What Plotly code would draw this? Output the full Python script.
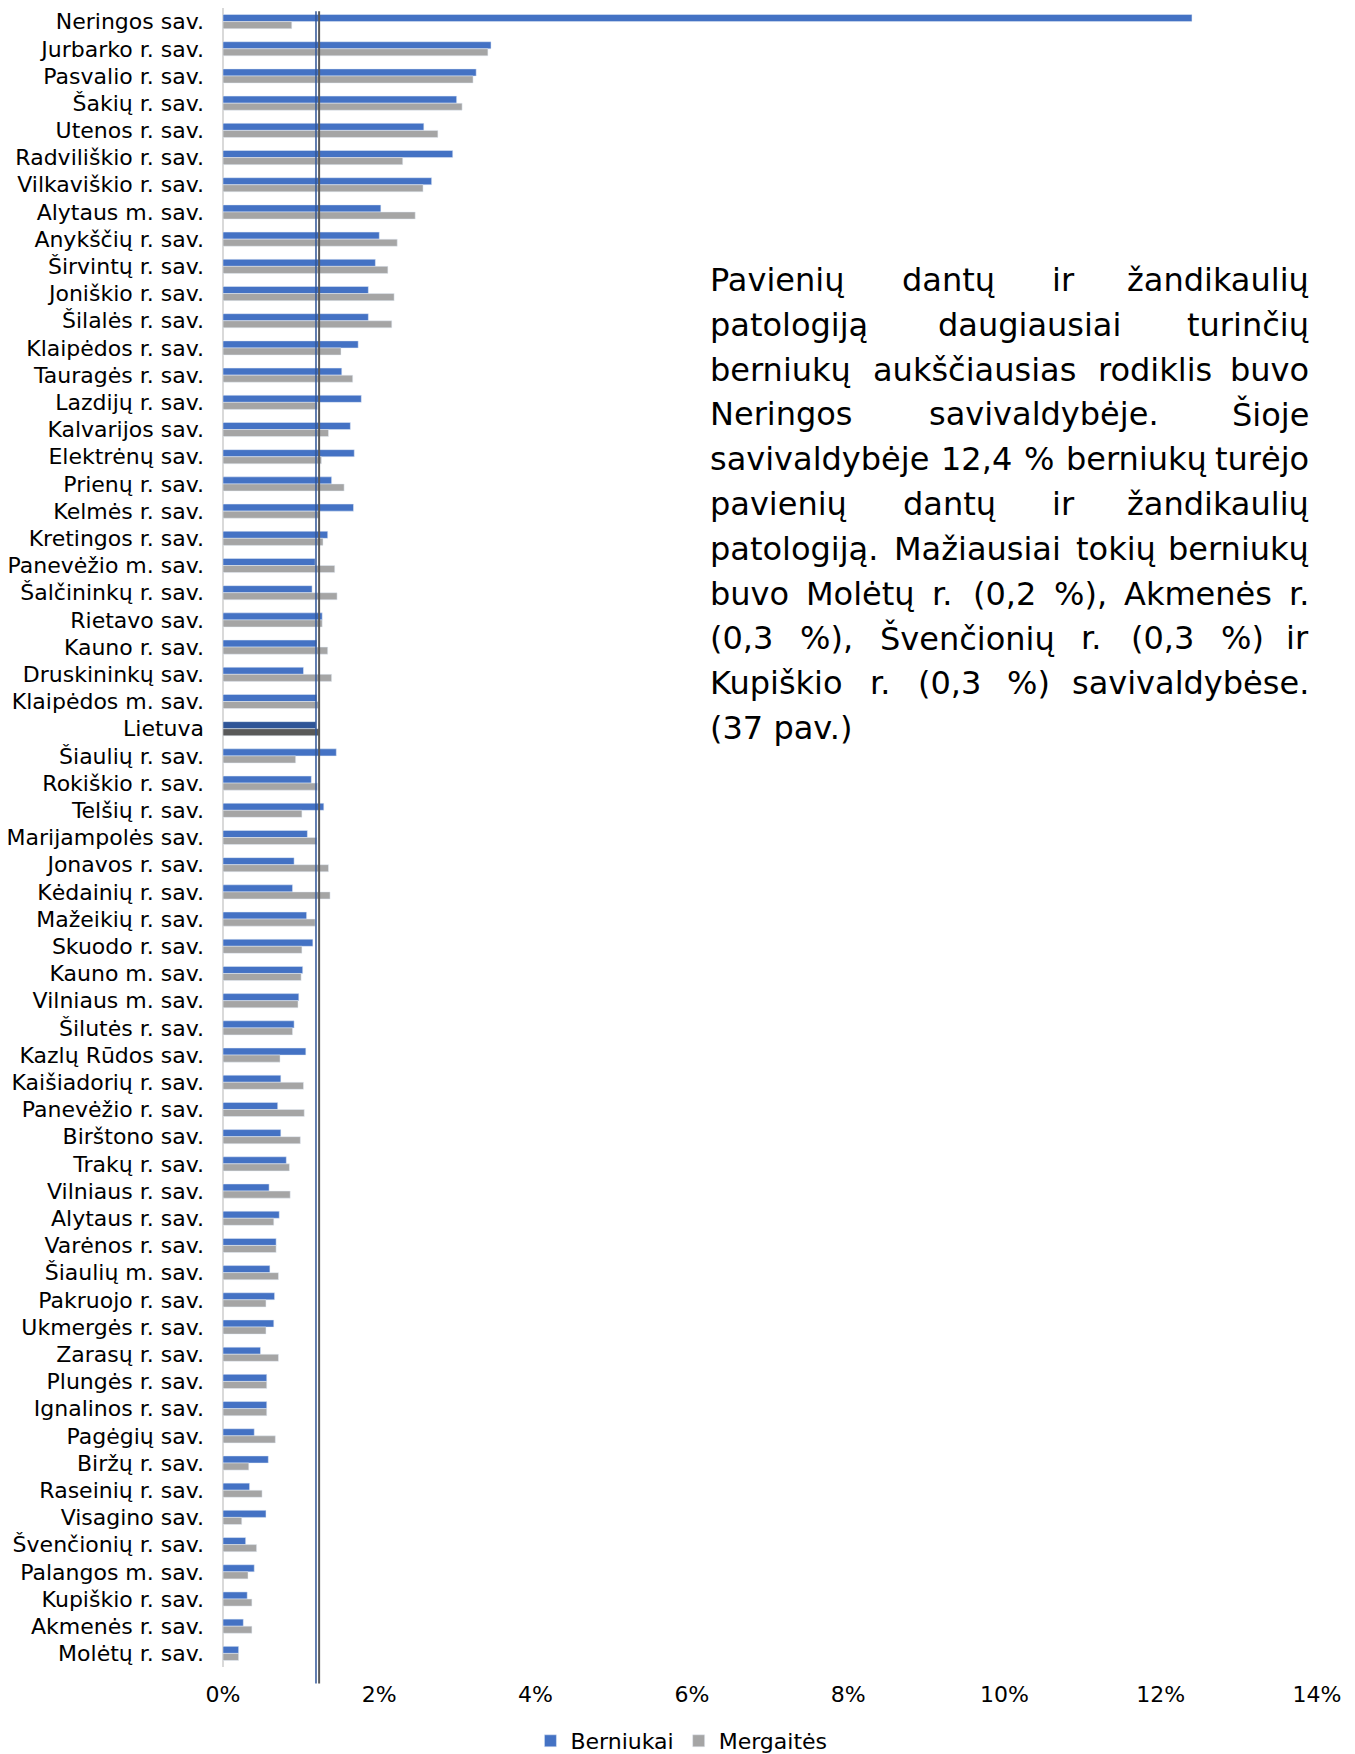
import unicodedata
import plotly.graph_objects as go

categories = [
    'Neringos sav.', 'Jurbarko r. sav.', 'Pasvalio r. sav.', 'Šakių r. sav.', 'Utenos r. sav.',
    'Radviliškio r. sav.', 'Vilkaviškio r. sav.', 'Alytaus m. sav.', 'Anykščių r. sav.', 'Širvintų r. sav.',
    'Joniškio r. sav.', 'Šilalės r. sav.', 'Klaipėdos r. sav.', 'Tauragės r. sav.', 'Lazdijų r. sav.',
    'Kalvarijos sav.', 'Elektrėnų sav.', 'Prienų r. sav.', 'Kelmės r. sav.', 'Kretingos r. sav.',
    'Panevėžio m. sav.', 'Šalčininkų r. sav.', 'Rietavo sav.', 'Kauno r. sav.', 'Druskininkų sav.',
    'Klaipėdos m. sav.', 'Lietuva', 'Šiaulių r. sav.', 'Rokiškio r. sav.', 'Telšių r. sav.',
    'Marijampolės sav.', 'Jonavos r. sav.', 'Kėdainių r. sav.', 'Mažeikių r. sav.', 'Skuodo r. sav.',
    'Kauno m. sav.', 'Vilniaus m. sav.', 'Šilutės r. sav.', 'Kazlų Rūdos sav.', 'Kaišiadorių r. sav.',
    'Panevėžio r. sav.', 'Birštono sav.', 'Trakų r. sav.', 'Vilniaus r. sav.', 'Alytaus r. sav.',
    'Varėnos r. sav.', 'Šiaulių m. sav.', 'Pakruojo r. sav.', 'Ukmergės r. sav.', 'Zarasų r. sav.',
    'Plungės r. sav.', 'Ignalinos r. sav.', 'Pagėgių sav.', 'Biržų r. sav.', 'Raseinių r. sav.',
    'Visagino sav.', 'Švenčionių r. sav.', 'Palangos m. sav.', 'Kupiškio r. sav.', 'Akmenės r. sav.',
    'Molėtų r. sav.',
]

berniukai = [
    12.4, 3.43, 3.24, 2.99, 2.57, 2.94, 2.67, 2.02, 2.00, 1.95,
    1.86, 1.86, 1.73, 1.52, 1.77, 1.63, 1.68, 1.39, 1.67, 1.34,
    1.18, 1.14, 1.27, 1.20, 1.03, 1.20, 1.19, 1.45, 1.13, 1.29,
    1.08, 0.91, 0.89, 1.07, 1.15, 1.02, 0.97, 0.91, 1.06, 0.74,
    0.70, 0.74, 0.81, 0.59, 0.72, 0.68, 0.60, 0.66, 0.65, 0.48,
    0.56, 0.56, 0.40, 0.58, 0.34, 0.55, 0.29, 0.40, 0.31, 0.26,
    0.20,
]

mergaites = [
    0.88, 3.39, 3.20, 3.06, 2.75, 2.30, 2.56, 2.46, 2.23, 2.11,
    2.19, 2.16, 1.51, 1.66, 1.21, 1.35, 1.26, 1.55, 1.23, 1.28,
    1.43, 1.46, 1.27, 1.34, 1.39, 1.22, 1.23, 0.93, 1.21, 1.01,
    1.20, 1.35, 1.37, 1.18, 1.01, 1.00, 0.96, 0.89, 0.73, 1.03,
    1.04, 0.99, 0.85, 0.86, 0.65, 0.68, 0.71, 0.55, 0.55, 0.71,
    0.56, 0.56, 0.67, 0.33, 0.50, 0.24, 0.43, 0.32, 0.37, 0.37,
    0.20,
]

x_ticks = [0, 2, 4, 6, 8, 10, 12, 14]

text_lines = [
    'Pavienių dantų ir žandikaulių',
    'patologiją daugiausiai turinčių',
    'berniukų aukščiausias rodiklis buvo',
    'Neringos savivaldybėje. Šioje',
    'savivaldybėje 12,4 % berniukų turėjo',
    'pavienių dantų ir žandikaulių',
    'patologiją. Mažiausiai tokių berniukų',
    'buvo Molėtų r. (0,2 %), Akmenės r.',
    '(0,3 %), Švenčionių r. (0,3 %) ir',
    'Kupiškio r. (0,3 %) savivaldybėse.',
    '(37 pav.)',
]

BLUE = '#4472C4'
GRAY = '#A5A5A5'
BLUE_LT = '#2F5597'
GRAY_LT = '#595959'
FONT = 'Verdana, DejaVu Sans, sans-serif'

lt_idx = categories.index('Lietuva')
blue_colors = [BLUE_LT if c == 'Lietuva' else BLUE for c in categories]
gray_colors = [GRAY_LT if c == 'Lietuva' else GRAY for c in categories]

fig = go.Figure()
fig.add_trace(go.Bar(
    y=categories, x=berniukai, orientation='h', name='Berniukai',
    marker=dict(color=blue_colors),
))
fig.add_trace(go.Bar(
    y=categories, x=mergaites, orientation='h', name='Mergaitės',
    marker=dict(color=gray_colors),
))

# Lithuanian average lines
fig.add_shape(type='line', xref='x', yref='paper',
              x0=mergaites[lt_idx], x1=mergaites[lt_idx], y0=-0.010, y1=0.998,
              line=dict(color=GRAY_LT, width=2))
fig.add_shape(type='line', xref='x', yref='paper',
              x0=berniukai[lt_idx], x1=berniukai[lt_idx], y0=-0.010, y1=0.998,
              line=dict(color=BLUE_LT, width=1.5))

# justified paragraph: approximate word widths with DejaVu Sans advances
ADV = {' ': 651, '%': 1946, '(': 799, ')': 799, ',': 651, '.': 651,
       'A': 1401, 'B': 1405, 'K': 1343, 'M': 1767, 'N': 1532, 'P': 1235, 'S': 1300,
       'a': 1255, 'b': 1300, 'c': 1126, 'd': 1300, 'e': 1260, 'g': 1300, 'h': 1298,
       'i': 569, 'j': 569, 'k': 1186, 'l': 569, 'm': 1995, 'n': 1298, 'o': 1253,
       'p': 1300, 'r': 842, 's': 1067, 't': 803, 'u': 1298, 'v': 1212, 'y': 1212, 'z': 1075}
for d in '0123456789':
    ADV[d] = 1303

TXT_SIZE = 32


def word_w(w):
    tot = 0
    for ch in w:
        base = unicodedata.normalize('NFD', ch)[0]
        tot += ADV.get(base, 1250)
    return tot / 2048 * TXT_SIZE


# page has an 8px body margin; figure coords below
PLOT_L, PLOT_W = 215, 1094
PLOT_T, PLOT_H = 0, 1659
TXT_L, TXT_R = 700, 1303
LINE0, LINE_H = 272, 44.8


def px_x(px):
    return (px - PLOT_L) / PLOT_W


def px_y(py):
    return 1 - (py - PLOT_T) / PLOT_H


for i, line in enumerate(text_lines):
    yy = px_y(LINE0 + i * LINE_H)
    words = line.split(' ')
    if i == len(text_lines) - 1 or len(words) == 1:
        fig.add_annotation(x=px_x(TXT_L), y=yy, xref='paper', yref='paper', text=line,
                           showarrow=False, xanchor='left', yanchor='middle',
                           font=dict(size=TXT_SIZE, color='#000000', family=FONT))
        continue
    widths = [word_w(w) for w in words]
    gap = (TXT_R - TXT_L - sum(widths)) / (len(words) - 1)
    cur = TXT_L
    for j, w in enumerate(words):
        if j == len(words) - 1:
            fig.add_annotation(x=px_x(TXT_R), y=yy, xref='paper', yref='paper', text=w,
                               showarrow=False, xanchor='right', yanchor='middle',
                               font=dict(size=TXT_SIZE, color='#000000', family=FONT))
        else:
            fig.add_annotation(x=px_x(cur), y=yy, xref='paper', yref='paper', text=w,
                               showarrow=False, xanchor='left', yanchor='middle',
                               font=dict(size=TXT_SIZE, color='#000000', family=FONT))
        cur += widths[j] + gap

fig.update_layout(
    width=1355, height=1754,
    margin=dict(l=PLOT_L, r=1355 - PLOT_L - PLOT_W, t=PLOT_T, b=1754 - PLOT_T - PLOT_H),
    paper_bgcolor='white', plot_bgcolor='white',
    barmode='group', bargap=0.48, bargroupgap=0,
    font=dict(family=FONT, color='#000000', size=22),
    showlegend=True,
    legend=dict(orientation='h', xref='container', yref='container',
                x=0.497, y=0.0, xanchor='center', yanchor='bottom',
                font=dict(size=22), itemwidth=30, traceorder='normal'),
    xaxis=dict(range=[0, 14], tickvals=x_ticks, ticktext=[f'{v}%' for v in x_ticks],
               showgrid=False, zeroline=True, zerolinecolor='#D9D9D9', zerolinewidth=2,
               showline=False, ticks='', ticklabelstandoff=12, tickfont=dict(size=22),
               automargin=False),
    yaxis=dict(type='category', categoryorder='array', categoryarray=categories,
               autorange='reversed', showgrid=False, showline=False, ticks='',
               ticklabelstandoff=18, tickfont=dict(size=22), automargin=False),
)

fig.write_html('out.html')
